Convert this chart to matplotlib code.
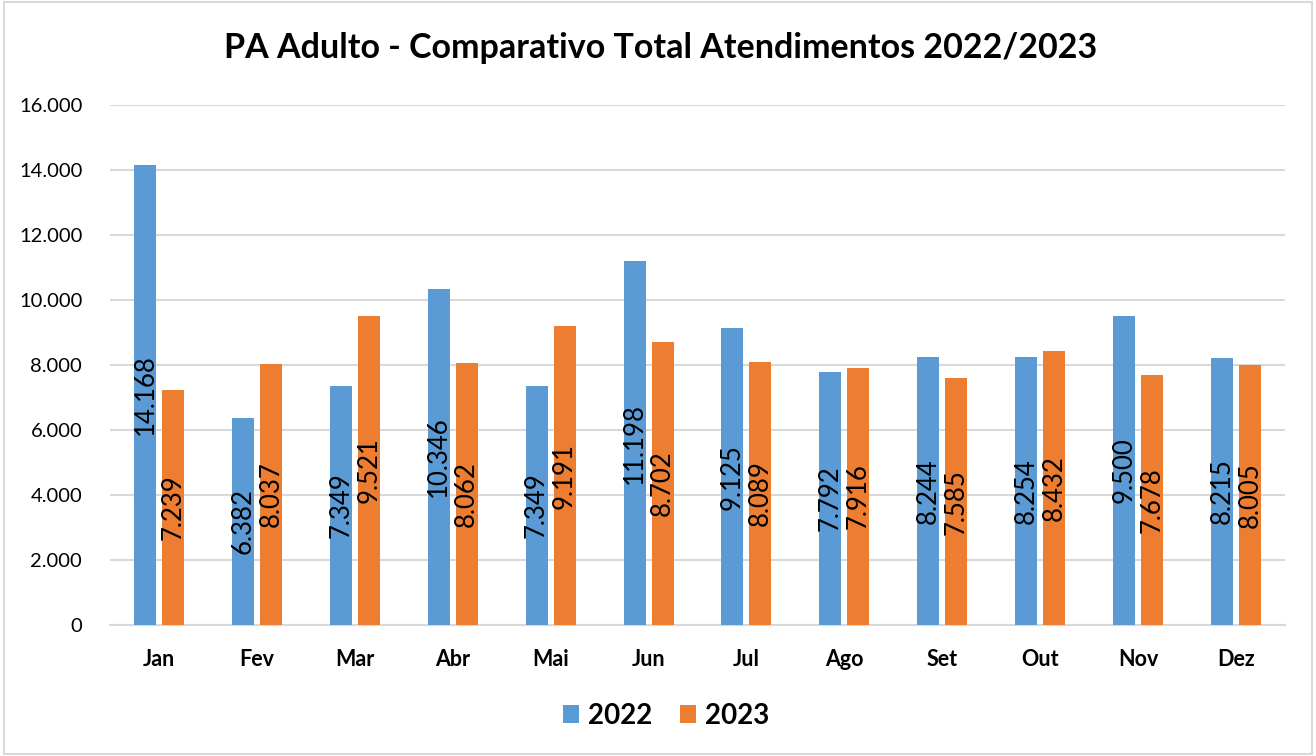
import matplotlib
matplotlib.use("Agg")
import matplotlib.pyplot as plt
from matplotlib.patches import Rectangle
from matplotlib.ticker import FuncFormatter
import numpy as np

months = ["Jan", "Fev", "Mar", "Abr", "Mai", "Jun", "Jul", "Ago", "Set", "Out", "Nov", "Dez"]
vals_2022 = [14168, 6382, 7349, 10346, 7349, 11198, 9125, 7792, 8244, 8254, 9500, 8215]
vals_2023 = [7239, 8037, 9521, 8062, 9191, 8702, 8089, 7916, 7585, 8432, 7678, 8005]
series_names = ["2022", "2023"]
title = "PA Adulto - Comparativo Total Atendimentos 2022/2023"

C_BLUE = "#5B9BD5"
C_ORANGE = "#ED7D31"
FONT = "Lato"

plt.rcParams["font.family"] = [FONT, "DejaVu Sans"]

fig = plt.figure(figsize=(13.16, 7.56), dpi=100)
ax = fig.add_axes([0.0836, 0.1733, 0.8928, 0.6878])

x = np.arange(len(months))
w = 0.225
off = 0.143

def fmt(v):
    return f"{v:,}".replace(",", ".")

b1 = ax.bar(x - off, vals_2022, w, color=C_BLUE, label=series_names[0], zorder=3)
b2 = ax.bar(x + off, vals_2023, w, color=C_ORANGE, label=series_names[1], zorder=3)

for bars, vals in ((b1, vals_2022), (b2, vals_2023)):
    for r, v in zip(bars, vals):
        ax.text(r.get_x() + r.get_width() / 2, v / 2, fmt(v), rotation=90,
                ha="center", va="center", fontsize=18.5, color="black", zorder=4)

ax.set_xlim(-0.5, len(months) - 0.5)
ax.set_ylim(0, 16000)
ax.set_yticks(np.arange(0, 16001, 2000))
ax.yaxis.set_major_formatter(FuncFormatter(lambda v, p: fmt(int(v))))
ax.set_xticks(x)
ax.set_xticklabels(months, fontweight="bold", fontsize=15.5)
ax.tick_params(axis="y", labelsize=14.5, length=0, pad=20)
ax.tick_params(axis="x", length=0, pad=17)
ax.grid(axis="y", color="#D9D9D9", linewidth=1.5, zorder=0)
for s in ("left", "right", "top"):
    ax.spines[s].set_visible(False)
ax.spines["bottom"].set_color("#D9D9D9")
ax.spines["bottom"].set_linewidth(1.5)

fig.suptitle(title, x=0.502, y=0.958, fontsize=24.5, fontweight="bold")

leg = fig.legend(handles=[b1, b2], labels=series_names, loc="center",
                 bbox_to_anchor=(0.506, 0.053), ncol=2, frameon=False,
                 prop={"family": FONT, "weight": "bold", "size": 20},
                 handlelength=0.6, handleheight=0.6, handletextpad=0.3, columnspacing=1.0)

fig.patches.append(Rectangle((0.003, 0.003), 0.994, 0.994, transform=fig.transFigure,
                             fill=False, edgecolor="#D9D9D9", linewidth=1.5))

fig.savefig("out.png", dpi=100, facecolor="white")
